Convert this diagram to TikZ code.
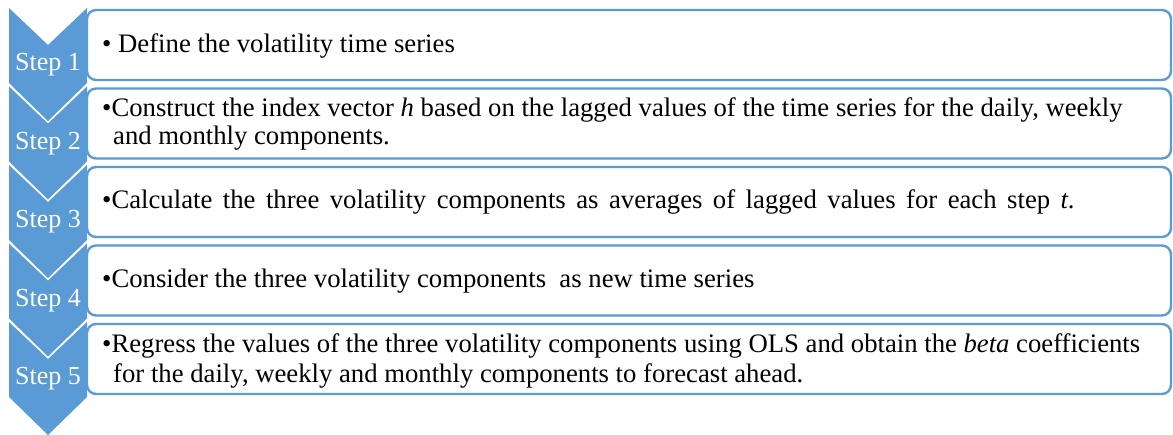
\documentclass[tikz,border=0pt]{standalone}
\usepackage{fontspec}
\setmainfont{Liberation Serif}
\usepackage{xcolor}
\definecolor{stepblue}{HTML}{5B9BD5}
\newcommand{\stepchev}[1]{\fill[stepblue] (9,#1) -- (48,#1+37) -- (87,#1) -- (87,#1+75) -- (48,#1+113) -- (9,#1+75) -- cycle;}

\begin{document}
\begin{tikzpicture}[x=1pt, y=-1pt,
  main/.style = {draw=stepblue, line width=2.4pt, rounded corners=9pt, fill=white, minimum width=1084pt, minimum height=70pt, inner sep=0pt},
  lbl/.style = {text=white, font=\fontsize{26}{28}\selectfont, anchor=base, inner sep=0pt},
  txt/.style = {font=\fontsize{26.7}{29}\selectfont, anchor=base west, inner sep=0pt}]
                \useasboundingbox (0,0) rectangle (1173,435);

                \stepchev{8}
                \stepchev{86.5}
                \stepchev{165}
                \stepchev{243.5}
                \stepchev{322}

                \node[lbl] (s1) at (48,71) {Step 1};
                \node[lbl] (s2) at (48,149.5) {Step 2};
                \node[lbl] (s3) at (48,228) {Step 3};
                \node[lbl] (s4) at (48,306.5) {Step 4};
                \node[lbl] (s5) at (48,385) {Step 5};

                \node[main] (1) at (629,45) {};
                \node[main] (2) at (629,123.5) {};
                \node[main] (3) at (629,202) {};
                \node[main] (4) at (629,280.5) {};
                \node[main] (5) at (629,359) {};

                \node[txt] (t1) at (102,53) {• Define the volatility time series};
                \node[txt] (t2) at (102,117) {•Construct the index vector \textit{h} based on the lagged values of the time series for the daily, weekly};
                \node[txt] (t2b) at (113,145) {and monthly components.};
                \node[txt] (t3) at (102,209) {\spaceskip=10.5pt •Calculate the three volatility components as averages of lagged values for each step \textit{t}.};
                \node[txt] (t4) at (102,288) {•Consider the three volatility components\ \ as new time series};
                \node[txt] (t5) at (102,353) {•Regress the values of the three volatility components using OLS and obtain the \textit{beta} coefficients};
                \node[txt] (t5b) at (113,383) {for the daily, weekly and monthly components to forecast ahead.};
            \end{tikzpicture}
\end{document}
